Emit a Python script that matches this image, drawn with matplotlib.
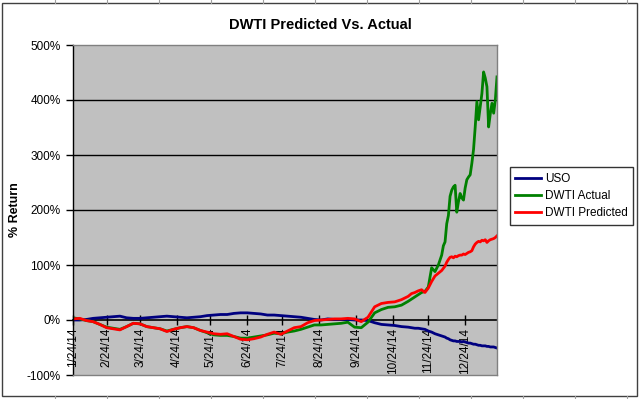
import numpy as np
import matplotlib as mpl
mpl.use("Agg")
import matplotlib.pyplot as plt
from matplotlib.patches import Rectangle
from matplotlib.lines import Line2D

plt.rcParams['font.family'] = ['Liberation Sans', 'DejaVu Sans']

# trading-day index of each sample (0 = 1/24/14)
days = list(range(0, 200, 4)) + list(range(200, 220, 2)) + list(range(220, 254))

# % return
uso = [0, 0, 1, 3, 4, 5, 6, 7, 4, 3,
       3, 4, 5, 6, 7, 6, 5, 4, 5, 6,
       8, 9, 10, 10, 12, 13, 13, 12, 11, 9,
       9, 8, 7, 6, 5, 3, 1, 0, 2, 1,
       1, 1, 0, 0, -1, -5, -8, -9, -10, -12,
       -13, -14, -15, -15, -16, -17, -20, -22, -25, -27,
       -29, -30, -31, -33, -34, -36, -37, -38, -38, -39,
       -39, -39, -40, -39, -40, -41, -42, -42, -43, -44,
       -44, -45, -46, -46, -47, -47, -47, -48, -48, -49,
       -49, -49, -50, -51]

dwti_predicted = [2, 3, -1, -3, -8, -14, -16, -18, -12, -6,
                  -7, -12, -14, -16, -21, -17, -14, -12, -14, -19,
                  -22, -25, -26, -25, -30, -35, -36, -34, -31, -26,
                  -22, -26, -20, -14, -12, -5, -1, 0, 1, 2,
                  2, 3, 2, -3, 5, 24, 30, 32, 33, 37,
                  43, 48, 50, 53, 55, 50, 58, 70, 80, 85,
                  90, 94, 98, 105, 110, 114, 115, 113, 116, 115,
                  117, 118, 118, 120, 119, 121, 123, 124, 126, 133,
                  138, 141, 143, 142, 145, 144, 146, 141, 144, 146,
                  147, 148, 150, 153]

dwti_actual = [4, 2, -1, -3, -8, -13, -15, -17, -12, -6,
               -7, -12, -14, -16, -20, -17, -14, -12, -14, -19,
               -23, -27, -28, -28, -30, -33, -33, -31, -29, -27,
               -24, -25, -22, -20, -17, -13, -9, -9, -8, -7,
               -6, -4, -13, -14, -4, 13, 19, 23, 24, 27,
               34, 38, 42, 46, 50, 52, 60, 95, 88, 100,
               118, 135, 142, 175, 190, 225, 236, 242, 245, 196,
               215, 230, 222, 218, 240, 255, 260, 264, 285, 310,
               351, 397, 364, 388, 412, 451, 440, 424, 351, 375,
               394, 376, 400, 442]

tick_days = [0, 20, 40, 62, 82, 104, 125, 147, 169, 191, 212, 234]
tick_labels = ['1/24/14', '2/24/14', '3/24/14', '4/24/14', '5/24/14', '6/24/14',
               '7/24/14', '8/24/14', '9/24/14', '10/24/14', '11/24/14', '12/24/14']

fig = plt.figure(figsize=(6.4, 3.99), dpi=100)
ax = fig.add_axes([73/640, 24/399, 424/640, 330/399])
ax.set_facecolor('#C0C0C0')

ax.plot(days, uso, color='#000080', lw=2, label='USO')
ax.plot(days, dwti_actual, color='#008000', lw=2, label='DWTI Actual')
ax.plot(days, dwti_predicted, color='#FF0000', lw=2, label='DWTI Predicted')

ax.set_xlim(0, 253)
ax.set_ylim(-100, 500)
ax.set_yticks(range(-100, 501, 100))
ax.set_yticklabels([f'{v}%' for v in range(-100, 501, 100)], fontsize=8.5)
ax.tick_params(axis='y', direction='out', length=5, width=1, color='black', pad=4)
ax.set_xticks([])
for v in [100, 200, 300, 400]:
    ax.axhline(v, color='black', lw=1, zorder=0.5)

for s in ['top', 'right', 'bottom']:
    ax.spines[s].set_color('#808080')
    ax.spines[s].set_linewidth(1)
ax.spines['left'].set_color('black')
ax.spines['left'].set_linewidth(1)

# category axis crossing at 0%
sec = ax.secondary_xaxis(1/6)
sec.set_xticks(tick_days)
sec.set_xticklabels(tick_labels, rotation=90, fontsize=8.5)
sec.tick_params(direction='inout', length=7, width=1, color='black', pad=2)
sec.spines['bottom'].set_color('black')
sec.spines['bottom'].set_linewidth(1.2)

fig.text(15/640, 1 - 210/399, '% Return', rotation=90, ha='center', va='center',
         fontsize=9, fontweight='bold')

fig.text(0.5, 1 - 25/399, 'DWTI Predicted Vs. Actual', ha='center', va='center',
         fontsize=10.5, fontweight='bold')

leg = fig.legend(loc='center left', bbox_to_anchor=(510/640, 1 - 196/399),
                 fontsize=8.5, frameon=True, fancybox=False, edgecolor='black',
                 handlelength=2.2, handletextpad=0.3, borderpad=0.45,
                 labelspacing=0.45, borderaxespad=0)
leg.get_frame().set_linewidth(1)
for h in leg.legend_handles:
    h.set_linewidth(2)

# chart border and sheet gridlines
fig.patches.append(Rectangle((2/640, 3/399), 635/640, 393/399, transform=fig.transFigure,
                             fill=False, edgecolor='#404040', lw=1))
for x in range(55, 640, 52):
    fig.add_artist(Line2D([x/640, x/640], [0, 3/399], color='#A0A0A0', lw=0.8))
    fig.add_artist(Line2D([x/640, x/640], [396/399, 1], color='#A0A0A0', lw=0.8))

fig.savefig('out.png', dpi=100)
